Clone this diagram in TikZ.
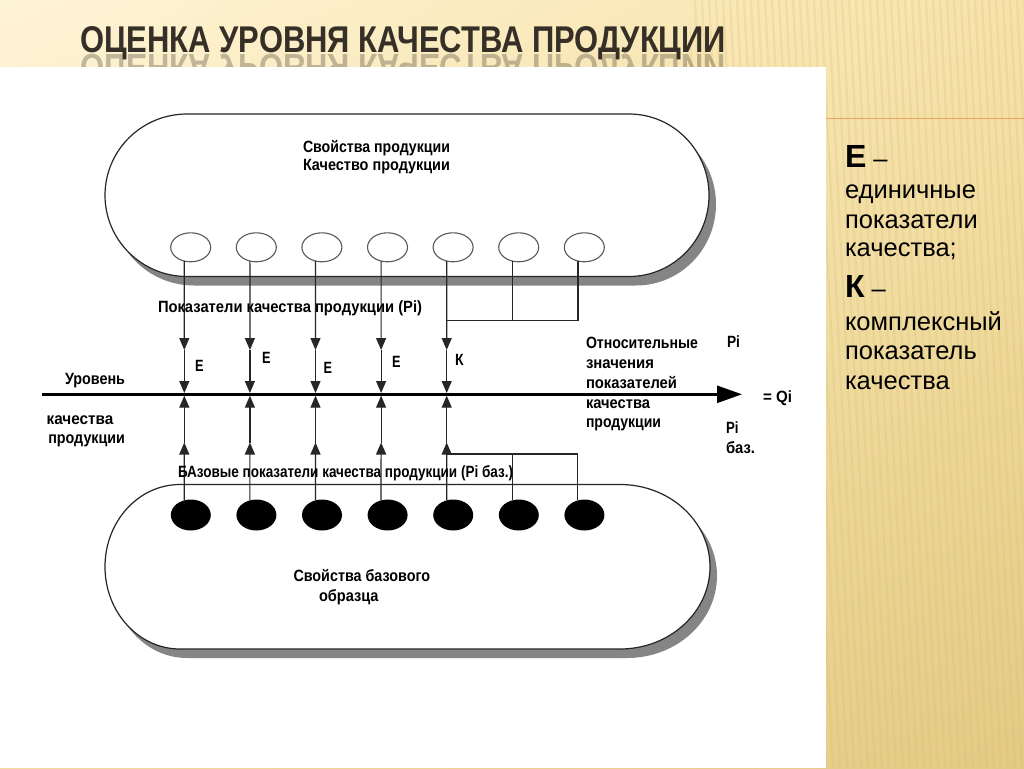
\documentclass[tikz,border=0pt]{standalone}
\usepackage{fontspec}
\setmainfont{Liberation Sans}
\newfontfamily\dfont{Liberation Sans}
\usetikzlibrary{arrows.meta,shapes.geometric,shadings}
\definecolor{titlecol}{HTML}{352F27}
\definecolor{orangeline}{HTML}{E8A45A}
\definecolor{shadowgrey}{HTML}{858585}
\definecolor{bgTL}{HTML}{FEF4D6}
\definecolor{bgTR}{HTML}{F7E3AA}
\definecolor{bgBL}{HTML}{F1DC9E}
\definecolor{bgBR}{HTML}{E3CB84}
\definecolor{stripecol}{HTML}{D9B86A}
\newcommand\fitw[2]{\resizebox{#1}{\height}{#2}}
\begin{document}
\begin{tikzpicture}[x=1pt,y=-1pt,
  dtxt/.style={inner sep=0pt,outer sep=0pt,anchor=base west,font=\dfont\bfseries\fontsize{16.3}{19}\selectfont},
  ptxt/.style={inner sep=0pt,outer sep=0pt,anchor=base west,font=\fontsize{25.5}{30}\selectfont},
  pbig/.style={inner sep=0pt,outer sep=0pt,anchor=base west,font=\bfseries\fontsize{32}{36}\selectfont},
  ucirc/.style={ellipse,draw=black!65,line width=1.1pt,fill=white,minimum width=40pt,minimum height=29pt,inner sep=0pt,outer sep=0pt},
  bcirc/.style={ellipse,fill=black,minimum width=40pt,minimum height=31pt,inner sep=0pt,outer sep=0pt},
  col/.style={line width=1.2pt,draw=black!85},
  tip/.style={-{Triangle[length=12pt,width=10pt]}},
  pill/.style={draw=black!85,line width=1.2pt,fill=white},
  pillshadow/.style={fill=shadowgrey}]
\useasboundingbox (0,0) rectangle (1024,768);
% background
\shade[upper left=bgTL,upper right=bgTR,lower left=bgBL,lower right=bgBR] (0,0) rectangle (1024,768);
\begin{scope}
  \clip (690,0) rectangle (1024,768);
  \foreach \k in {0,...,55} {
    \draw[stripecol,opacity=0.22,line width=2.2pt] (660+\k*7,0) -- (700+\k*7,768);
  }
\end{scope}
% title
\node[anchor=base west,inner sep=0pt,outer sep=0pt,text=titlecol,font=\bfseries] (title) at (80,53)
  {\resizebox{646pt}{26pt}{ОЦЕНКА УРОВНЯ КАЧЕСТВА ПРОДУКЦИИ}};
\begin{scope}
  \clip (0,54) rectangle (826,67);
  \node[anchor=base west,inner sep=0pt,outer sep=0pt,text=titlecol,opacity=0.3,font=\bfseries] (titlerefl) at (80,54.5)
    {\scalebox{1}[-1]{\resizebox{646pt}{26pt}{ОЦЕНКА УРОВНЯ КАЧЕСТВА ПРОДУКЦИИ}}};
\end{scope}
% white panel
\fill[white] (0,67) rectangle (826,768);
\draw[orangeline,line width=1.5pt] (826,118.5) -- (1024,118.5);
% upper pill
\path[pillshadow,shift={(7,9)}] (187,114) -- (629,114)
  arc[start angle=-90,end angle=90,x radius=80,y radius=81.25] -- (187,276.5)
  arc[start angle=90,end angle=270,x radius=82,y radius=81.25] -- cycle;
\path[pill] (187,114) -- (629,114)
  arc[start angle=-90,end angle=90,x radius=80,y radius=81.25] -- (187,276.5)
  arc[start angle=90,end angle=270,x radius=82,y radius=81.25] -- cycle;
% lower pill
\path[pillshadow,shift={(7,9)}] (180,484.5) -- (620,484.5)
  arc[start angle=-90,end angle=90,x radius=90,y radius=82.25] -- (180,649)
  arc[start angle=90,end angle=270,x radius=75,y radius=82.25] -- cycle;
\path[pill] (180,484.5) -- (620,484.5)
  arc[start angle=-90,end angle=90,x radius=90,y radius=82.25] -- (180,649)
  arc[start angle=90,end angle=270,x radius=75,y radius=82.25] -- cycle;
% circles and coordinates
\foreach \i in {1,...,7} {
  \pgfmathsetmacro\X{184.3+65.6*(\i-1)}
  \node[ucirc] (u\i) at (\X+6.4,247.3) {};
  \node[bcirc] (b\i) at (\X+6.5,515) {};
  \coordinate (a\i) at (\X,350);
  \coordinate (m\i) at (\X,393);
  \coordinate (n\i) at (\X,395.7);
  \coordinate (d\i) at (\X,442.5);
}
% axis
\coordinate (axL) at (42,394.3);
\coordinate (axR) at (742,394.3);
\draw[line width=2.6pt,-{Triangle[length=25pt,width=17pt]}] (axL) -- (axR);
% column arrows
\foreach \i in {1,...,5} {
  \draw[col,tip] (u\i.-115) -- (a\i);
  \draw[col,tip] (a\i) -- (m\i);
  \draw[col,tip] (b\i.114) -- (d\i);
  \draw[col,tip] (d\i) -- (n\i);
}
% junctions for complex indicator
\coordinate (ju) at (446.7,320.7);
\coordinate (jl) at (446.7,454);
\draw[col] (u7.-115) |- (ju);
\draw[col] (u6.-115) -- (u6.-115 |- ju);
\draw[col] (b7.114) |- (jl);
\draw[col] (b6.114) -- (b6.114 |- jl);
% diagram texts
\node[dtxt] (t1) at (303,152) {\fitw{147pt}{Свойства продукции}};
\node[dtxt] (t2) at (303,170.5) {\fitw{147pt}{Качество продукции}};
\node[dtxt] (t3) at (158,312.3) {\fitw{264pt}{Показатели качества продукции (Pi)}};
\node[dtxt] (e1) at (195,371.8) {\fitw{8.5pt}{Е}};
\node[dtxt] (e2) at (262,363.8) {\fitw{8.5pt}{Е}};
\node[dtxt] (e3) at (323.5,373.8) {\fitw{8.5pt}{Е}};
\node[dtxt] (e4) at (392,367.8) {\fitw{8.5pt}{Е}};
\node[dtxt] (k1) at (455,365.8) {\fitw{8.5pt}{К}};
\node[dtxt] (t4) at (65,384) {\fitw{60pt}{Уровень}};
\node[dtxt] (t5) at (46.7,424) {\fitw{66.6pt}{качества}};
\node[dtxt] (t6) at (48.3,443.3) {\fitw{76.7pt}{продукции}};
\node[dtxt] (t7) at (178,477.3) {\fitw{335pt}{БАзовые показатели качества продукции (Pi баз.)}};
\node[dtxt] (r1) at (586,348.3) {\fitw{112pt}{Относительные}};
\node[dtxt] (r2) at (586,368) {\fitw{68pt}{значения}};
\node[dtxt] (r3) at (586,388) {\fitw{91pt}{показателей}};
\node[dtxt] (r4) at (586,408) {\fitw{64pt}{качества}};
\node[dtxt] (r5) at (586,427.7) {\fitw{75pt}{продукции}};
\node[dtxt] (p1) at (727,347) {\fitw{13pt}{Pi}};
\node[dtxt] (q1) at (763,402) {\fitw{29pt}{= Qi}};
\node[dtxt] (p2) at (726,433.3) {\fitw{12.5pt}{Pi}};
\node[dtxt] (p3) at (726,453.3) {\fitw{29pt}{баз.}};
\node[dtxt] (t8) at (293.5,581) {\fitw{136.5pt}{Свойства базового}};
\node[dtxt] (t9) at (319,601) {\fitw{59.5pt}{образца}};
% right panel legend
\node[pbig] (le) at (845,167) {Е\fontsize{25.5}{30}\selectfont\mdseries\ –};
\node[ptxt] (l1) at (845,198) {единичные};
\node[ptxt] (l2) at (845,228) {показатели};
\node[ptxt] (l3) at (845,256) {качества;};
\node[pbig] (lk) at (845,297) {К\fontsize{25.5}{30}\selectfont\mdseries\ –};
\node[ptxt] (l4) at (845,330) {комплексный};
\node[ptxt] (l5) at (845,359) {показатель};
\node[ptxt] (l6) at (845,389) {качества};
\end{tikzpicture}
\end{document}
